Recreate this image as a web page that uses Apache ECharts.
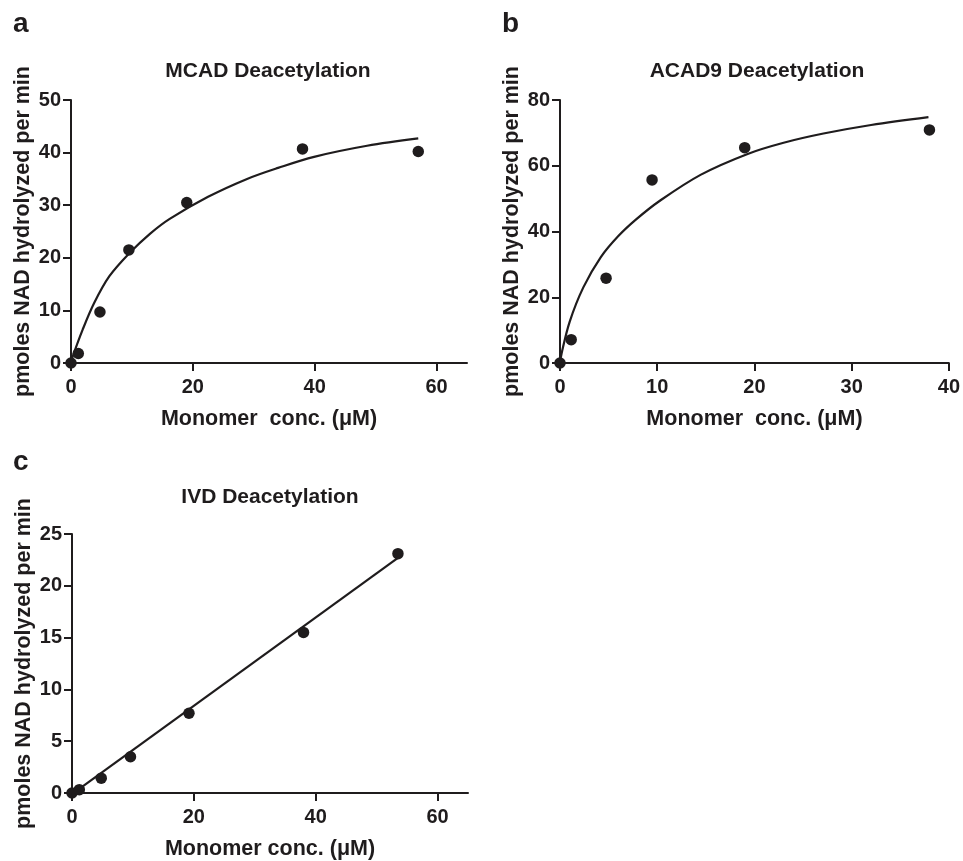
<!DOCTYPE html>
<html>
<head>
<meta charset="utf-8">
<script src="https://cdn.jsdelivr.net/npm/echarts@6/dist/echarts.min.js"></script>
<style>
    html, body { margin: 0; padding: 0; background: #fff; }
    #chart { width: 963px; height: 861px; }
</style>
</head>
<body>
<div id="chart"></div>
<script>
// panel a - MCAD
const concA = [0, 1.2, 4.75, 9.5, 19, 38, 57];
const rateA = [0, 1.8, 9.7, 21.5, 30.5, 40.7, 40.2];
const fitAx = [0, 0.3, 1.9, 3.8, 6.3, 9.6, 13, 16.2, 22.5, 28.9, 34, 39.9, 48.6, 57];
const fitAy = [0, 1.3, 6.3, 11.4, 16.5, 20.9, 24.6, 27.4, 31.6, 35.0, 37.1, 39.2, 41.3, 42.7];

// panel b - ACAD9
const concB = [0, 1.15, 4.74, 9.47, 19, 38];
const rateB = [0, 7.1, 25.8, 55.7, 65.5, 70.9];
const fitBx = [0, 0.17, 1.0, 2.4, 4.2, 6, 7.8, 10.2, 14.5, 19.3, 23, 27.1, 32, 37.9];
const fitBy = [0, 3.0, 12.6, 23.0, 32.2, 38.6, 43.6, 49.2, 57.3, 63.6, 67.0, 69.8, 72.4, 74.8];

// panel c - IVD
const concC = [0, 1.2, 4.8, 9.6, 19.2, 38, 53.5];
const rateC = [0, 0.32, 1.43, 3.5, 7.7, 15.5, 23.1];
const fitCx = [0, 53.5];
const fitCy = [-0.1, 22.7];

const ticksA = [0, 20, 40, 60];
const ticksC = [0, 20, 40, 60];

const ink = '#1f1c1d';
const font = 'Liberation Sans, Arial, Helvetica, sans-serif';
const yName = 'pmoles NAD hydrolyzed per min';

function pairs (xs, ys) {
    return xs.map((x, i) => [x, ys[i]]);
}

function xAx (grid, max, ticks, name) {
    let ax = {
        type: 'value',
        gridIndex: grid,
        min: 0,
        max: max,
        name: name,
        nameLocation: 'middle',
        nameGap: 45,
        nameTextStyle: { fontSize: 21.5, fontWeight: 'bold', color: ink, fontFamily: font },
        axisLine: { lineStyle: { color: ink, width: 2 } },
        axisTick: { length: 8, lineStyle: { color: ink, width: 2 } },
        axisLabel: { margin: 14, fontSize: 20, fontWeight: 'bold', color: ink, fontFamily: font },
        splitLine: { show: false }
    };
    if (ticks) {
        ax.axisTick.customValues = ticks;
        ax.axisLabel.customValues = ticks;
    } else {
        ax.interval = 10;
    }
    return ax;
}

function yAx (grid, max, step) {
    return {
        type: 'value',
        gridIndex: grid,
        min: 0,
        max: max,
        interval: step,
        name: yName,
        nameLocation: 'middle',
        nameGap: 37,
        nameTextStyle: { fontSize: 21.5, fontWeight: 'bold', color: ink, fontFamily: font },
        axisLine: { show: true, lineStyle: { color: ink, width: 2 } },
        axisTick: { show: true, length: 8, lineStyle: { color: ink, width: 2 } },
        axisLabel: { margin: 10, fontSize: 20, fontWeight: 'bold', color: ink, fontFamily: font },
        splitLine: { show: false }
    };
}

function dots (idx, xs, ys) {
    return {
        type: 'scatter',
        xAxisIndex: idx,
        yAxisIndex: idx,
        symbol: 'circle',
        symbolSize: 11.5,
        clip: false,
        itemStyle: { color: ink, opacity: 1 },
        data: pairs(xs, ys)
    };
}

function curve (idx, xs, ys) {
    return {
        type: 'line',
        xAxisIndex: idx,
        yAxisIndex: idx,
        smooth: 0.35,
        showSymbol: false,
        clip: false,
        lineStyle: { color: ink, width: 2.2 },
        data: pairs(xs, ys)
    };
}

function label (txt, x, y, size, align) {
    return {
        type: 'text',
        x: x,
        y: y,
        style: {
            text: txt,
            font: 'bold ' + size + 'px ' + font,
            fill: ink,
            textAlign: align,
            textVerticalAlign: 'middle'
        }
    };
}

const chart = echarts.init(document.getElementById('chart'));
chart.setOption({
    animation: false,
    backgroundColor: '#fff',
    grid: [
        { left: 71, top: 100, width: 396, height: 263 },
        { left: 560, top: 100, width: 394, height: 263 },
        { left: 72, top: 534, width: 396, height: 263 }
    ],
    xAxis: [
        xAx(0, 65, ticksA, 'Monomer  conc. (μM)'),
        xAx(1, 40, null, 'Monomer  conc. (μM)'),
        xAx(2, 65, ticksC, 'Monomer conc. (μM)')
    ],
    yAxis: [
        yAx(0, 50, 10),
        yAx(1, 80, 20),
        yAx(2, 25, 5)
    ],
    graphic: [
        label('a', 13, 24, 28, 'left'),
        label('b', 502, 24, 28, 'left'),
        label('c', 13, 462, 28, 'left'),
        label('MCAD Deacetylation', 268, 71, 21, 'center'),
        label('ACAD9 Deacetylation', 757, 71, 21, 'center'),
        label('IVD Deacetylation', 270, 497, 21, 'center')
    ],
    series: [
        curve(0, fitAx, fitAy),
        dots(0, concA, rateA),
        curve(1, fitBx, fitBy),
        dots(1, concB, rateB),
        curve(2, fitCx, fitCy),
        dots(2, concC, rateC)
    ]
});
</script>
</body>
</html>
